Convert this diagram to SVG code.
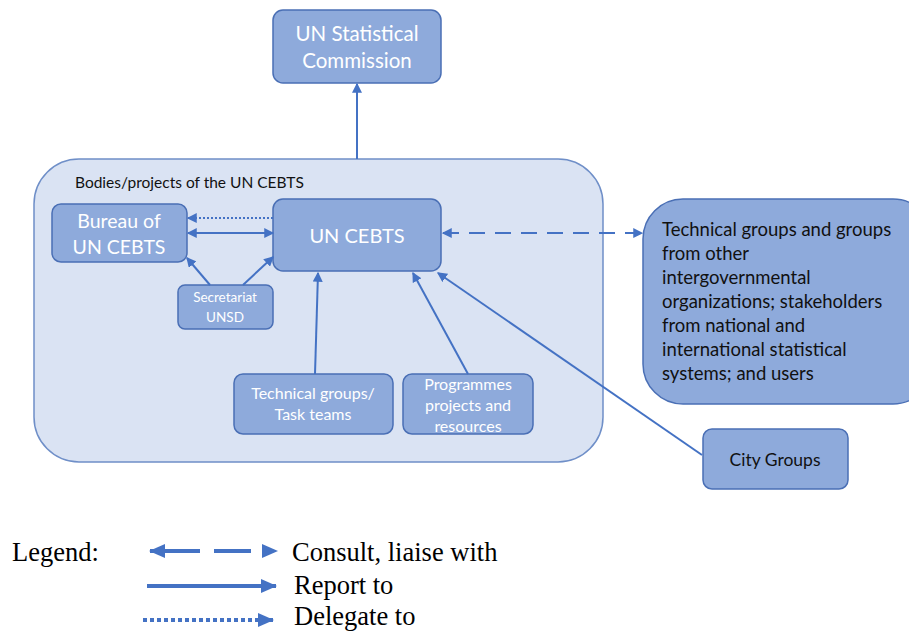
<svg xmlns="http://www.w3.org/2000/svg" width="909" height="631" viewBox="0 0 909 631">
<style>
.box{fill:#8eaadb;stroke:#4a6fb5;stroke-width:1.5}
.cont{fill:#dae3f3;stroke:#6f8fc8;stroke-width:1.5}
.wt{font-family:Lato,"Open Sans",sans-serif;fill:#ffffff;text-anchor:middle}
.bt{font-family:Lato,"Open Sans",sans-serif;fill:#111111}
.ln{stroke:#4472c4;stroke-width:2;fill:none}
.lg{font-family:"Liberation Serif",serif;font-size:26.5px;fill:#000}
.lgl{stroke:#4472c4;stroke-width:4;fill:none}
</style>
<defs>
<marker id="ah" markerUnits="userSpaceOnUse" markerWidth="10" markerHeight="10" refX="7" refY="4" orient="auto-start-reverse" viewBox="0 0 8 8">
<path d="M0,0 L8,4 L0,8 z" fill="#4472c4"/>
</marker>
<marker id="lh" markerUnits="userSpaceOnUse" markerWidth="16" markerHeight="16" refX="15" refY="8" orient="auto-start-reverse" viewBox="0 0 16 16">
<path d="M0,1 L16,8 L0,15 z" fill="#4472c4"/>
</marker>
</defs>
<rect width="909" height="631" fill="#ffffff"/>
<g id="container">
<rect class="cont" x="34" y="159" width="569" height="303" rx="45"/>
<text class="bt" x="75" y="188" font-size="15.5">Bodies/projects of the UN CEBTS</text>
</g>
<g id="commission">
<rect class="box" x="273" y="10" width="168" height="73" rx="10"/>
<text class="wt" x="357" y="41" font-size="20.5">UN Statistical</text>
<text class="wt" x="357" y="68" font-size="20.5">Commission</text>
</g>
<g id="bureau">
<rect class="box" x="52" y="204" width="135" height="58" rx="9"/>
<text class="wt" x="119" y="228" font-size="19.5">Bureau of</text>
<text class="wt" x="119" y="254" font-size="19.5">UN CEBTS</text>
</g>
<g id="cebts">
<rect class="box" x="273" y="199" width="168" height="72" rx="10"/>
<text class="wt" x="357" y="243" font-size="20">UN CEBTS</text>
</g>
<g id="secretariat">
<rect class="box" x="178" y="285" width="95" height="44" rx="7"/>
<text class="wt" x="225" y="302" font-size="13.5">Secretariat</text>
<text class="wt" x="225" y="322" font-size="13.5">UNSD</text>
</g>
<g id="techgroups">
<rect class="box" x="234" y="374" width="159" height="60" rx="9"/>
<text class="wt" x="313" y="399" font-size="16">Technical groups/</text>
<text class="wt" x="313" y="420" font-size="16">Task teams</text>
</g>
<g id="programmes">
<rect class="box" x="403" y="374" width="130" height="60" rx="9"/>
<text class="wt" x="468" y="390" font-size="16">Programmes</text>
<text class="wt" x="468" y="411" font-size="16">projects and</text>
<text class="wt" x="468" y="432" font-size="16">resources</text>
</g>
<g id="external">
<rect class="box" x="643" y="199" width="290" height="205" rx="40"/>
<text class="bt" x="662" y="236" font-size="18.5">Technical groups and groups</text>
<text class="bt" x="662" y="260" font-size="18.5">from other</text>
<text class="bt" x="662" y="284" font-size="18.5">intergovernmental</text>
<text class="bt" x="662" y="308" font-size="18.5">organizations; stakeholders</text>
<text class="bt" x="662" y="332" font-size="18.5">from national and</text>
<text class="bt" x="662" y="356" font-size="18.5">international statistical</text>
<text class="bt" x="662" y="380" font-size="18.5">systems; and users</text>
</g>
<g id="citygroups">
<rect class="box" x="703" y="429" width="145" height="60" rx="9"/>
<text class="bt" x="775" y="466" font-size="17.5" text-anchor="middle">City Groups</text>
</g>
<g id="connectors">
<line class="ln" x1="357" y1="159" x2="357" y2="84" marker-end="url(#ah)"/>
<line class="ln" x1="273" y1="218" x2="188" y2="218" stroke-dasharray="2,2" marker-end="url(#ah)"/>
<line class="ln" x1="188" y1="233" x2="273" y2="233" marker-start="url(#ah)" marker-end="url(#ah)"/>
<line class="ln" x1="210" y1="285" x2="187" y2="258" marker-end="url(#ah)"/>
<line class="ln" x1="243" y1="285" x2="273" y2="257" marker-end="url(#ah)"/>
<line class="ln" x1="315" y1="374" x2="318" y2="273" marker-end="url(#ah)"/>
<line class="ln" x1="468" y1="374" x2="413" y2="273" marker-end="url(#ah)"/>
<line class="ln" x1="702" y1="455" x2="438" y2="273" marker-end="url(#ah)"/>
<line class="ln" x1="443" y1="233" x2="642" y2="233" stroke-dasharray="16,10" marker-start="url(#ah)" marker-end="url(#ah)"/>
</g>
<g id="legend">
<text class="lg" x="12" y="561">Legend:</text>
<line class="lgl" x1="150" y1="551" x2="200" y2="551" marker-start="url(#lh)"/>
<line class="lgl" x1="214" y1="551" x2="277" y2="551" stroke-dasharray="37,40" marker-end="url(#lh)"/>
<text class="lg" x="292" y="561">Consult, liaise with</text>
<line class="lgl" x1="147" y1="586" x2="276" y2="586" marker-end="url(#lh)"/>
<text class="lg" x="294" y="594">Report to</text>
<line class="lgl" x1="143" y1="620" x2="273" y2="620" stroke-dasharray="4,3" marker-end="url(#lh)"/>
<text class="lg" x="294" y="625">Delegate to</text>
</g>
</svg>
